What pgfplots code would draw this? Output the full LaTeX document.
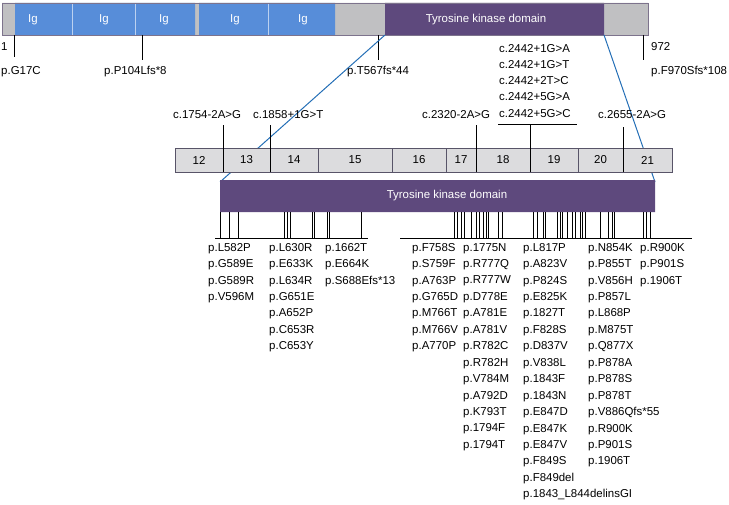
\documentclass[border=0pt]{standalone}
\usepackage{pgfplots}
\pgfplotsset{compat=1.18}
\usepackage{fontspec}
\setmainfont{Liberation Sans}
\definecolor{igblue}{RGB}{87,141,217}
\definecolor{tkpurple}{RGB}{94,73,125}
\definecolor{dgrey}{RGB}{192,192,194}
\definecolor{exgrey}{RGB}{220,220,222}
\definecolor{exedge}{RGB}{88,84,104}
\definecolor{baredge}{RGB}{125,115,140}
\definecolor{linkblue}{RGB}{35,110,182}
\begin{document}
\begin{tikzpicture}[font=\fontsize{11.5}{13.8}\selectfont]
\begin{axis}[scale only axis, width=729bp, height=505bp,
  xmin=0, xmax=729, ymin=0, ymax=505, y dir=reverse, hide axis, clip=false,
  every axis plot/.append style={no marks}]
% frame for bounding box
\addplot[draw=none, forget plot] coordinates {(0,0) (729,505)};
% ---------- top protein bar ----------
\addplot[fill=dgrey, draw=none] coordinates {(2,3) (648,3) (648,35) (2,35) (2,3)};
\addplot[fill=igblue, draw=none] coordinates {(15,3) (195,3) (195,35) (15,35) (15,3)};
\addplot[fill=igblue, draw=none] coordinates {(199,3) (335,3) (335,35) (199,35) (199,3)};
\addplot[fill=tkpurple, draw=none] coordinates {(385,3) (604,3) (604,35) (385,35) (385,3)};
\addplot[white!60!igblue, line width=0.6pt, unbounded coords=jump] coordinates {(72,3) (72,35) (72,nan) (135,3) (135,35) (135,nan) (268,3) (268,35)};
\addplot[baredge, line width=0.8pt] coordinates {(2,3) (648,3) (648,35) (2,35) (2,3)};
\node[white] at (axis cs:33,20) {Ig};
\node[white] at (axis cs:104,20) {Ig};
\node[white] at (axis cs:164,20) {Ig};
\node[white] at (axis cs:235,20) {Ig};
\node[white] at (axis cs:303,20) {Ig};
\node[white] at (axis cs:486,20) {Tyrosine kinase domain};
% ticks under top bar
\addplot[black, line width=0.9pt, unbounded coords=jump] coordinates {(14,35) (14,57) (14,nan) (142,35) (142,60) (142,nan) (378,35) (378,60) (378,nan) (643,35) (643,60)};
\node[anchor=west, inner sep=0pt] at (axis cs:1,47) {1};
\node[anchor=west, inner sep=0pt] at (axis cs:1,72) {p.G17C};
\node[anchor=west, inner sep=0pt] at (axis cs:104,72) {p.P104Lfs*8};
\node[anchor=west, inner sep=0pt] at (axis cs:347,72) {p.T567fs*44};
\node[anchor=west, inner sep=0pt] at (axis cs:651,47) {972};
\node[anchor=west, inner sep=0pt] at (axis cs:651,72) {p.F970Sfs*108};
% ---------- zoom lines ----------
\addplot[linkblue, line width=1pt] coordinates {(385,35) (220,182)};
\addplot[linkblue, line width=1pt] coordinates {(604,35) (655,182)};
% ---------- exon bar ----------
\addplot[fill=exgrey, draw=none] coordinates {(175,148) (672,148) (672,172) (175,172) (175,148)};
\addplot[exedge, line width=0.8pt] coordinates {(175,148) (672,148) (672,172) (175,172) (175,148)};
\addplot[exedge, line width=0.8pt, unbounded coords=jump] coordinates {(318,148) (318,172) (318,nan) (392,148) (392,172) (392,nan) (446,148) (446,172) (446,nan) (578,148) (578,172)};
\addplot[black, line width=0.8pt, unbounded coords=jump] coordinates {(223,125) (223,172) (223,nan) (270,125) (270,172) (270,nan) (476,125) (476,172) (476,nan) (530,124) (530,172) (530,nan) (623,127) (623,172) (623,nan) (498,124) (577,124)};
\node at (axis cs:199,160) {12};
\node at (axis cs:246.5,160) {13};
\node at (axis cs:294,160) {14};
\node at (axis cs:355,160) {15};
\node at (axis cs:419,160) {16};
\node at (axis cs:461,160) {17};
\node at (axis cs:503,160) {18};
\node at (axis cs:554,160) {19};
\node at (axis cs:600.5,160) {20};
\node at (axis cs:647.5,160) {21};
% splice labels
\node[anchor=west, inner sep=0pt] at (axis cs:173,115) {c.1754-2A>G};
\node[anchor=west, inner sep=0pt] at (axis cs:253,115) {c.1858+1G>T};
\node[anchor=west, inner sep=0pt] at (axis cs:422,115) {c.2320-2A>G};
\node[anchor=west, inner sep=0pt] at (axis cs:598,115) {c.2655-2A>G};
\node[anchor=north west, inner sep=0pt, align=left, font=\fontsize{11.5}{16.3}\selectfont] at (axis cs:499,44) {c.2442+1G>A\\c.2442+1G>T\\c.2442+2T>C\\c.2442+5G>A\\c.2442+5G>C};
% ---------- lower kinase domain ----------
\addplot[fill=tkpurple, draw=none] coordinates {(220,180) (655,180) (655,212) (220,212) (220,180)};
\node[white] at (axis cs:447,196) {Tyrosine kinase domain};
% mutation ticks
\addplot[black, line width=0.7pt, quiver={u=0, v=26}] coordinates {
 (220,212) (229,212) (238,212) (284,212) (287,212) (290,212) (312,212) (314,212) (327,212) (329,212) (361,212)
 (454,212) (457,212) (461,212) (464,212) (471,212) (476,212) (479,212) (483,212) (486,212) (488,212) (498,212) (502,212)
 (533,212) (537,212) (543,212) (545,212) (557,212) (560,212) (562,212) (567,212) (572,212) (575,212) (580,212) (582,212) (585,212)
 (600,212) (608,212) (612,212) (614,212) (643,212) (646,212) (650,212)};
\addplot[black, line width=0.9pt, unbounded coords=jump] coordinates {(215,238) (368,238) (368,nan) (400,238) (692,238)};
% mutation labels
\tikzset{mut/.style={anchor=north west, inner sep=0pt, align=left, font=\fontsize{11.5}{16.5}\selectfont}}
\node[mut] at (axis cs:208,243) {p.L582P\\p.G589E\\p.G589R\\p.V596M};
\node[mut] at (axis cs:269,243) {p.L630R\\p.E633K\\p.L634R\\p.G651E\\p.A652P\\p.C653R\\p.C653Y};
\node[mut] at (axis cs:325,243) {p.1662T\\p.E664K\\p.S688Efs*13};
\node[mut] at (axis cs:412,243) {p.F758S\\p.S759F\\p.A763P\\p.G765D\\p.M766T\\p.M766V\\p.A770P};
\node[mut] at (axis cs:463,243) {p.1775N\\p.R777Q\\p.R777W\\p.D778E\\p.A781E\\p.A781V\\p.R782C\\p.R782H\\p.V784M\\p.A792D\\p.K793T\\p.1794F\\p.1794T};
\node[mut] at (axis cs:523,243) {p.L817P\\p.A823V\\p.P824S\\p.E825K\\p.1827T\\p.F828S\\p.D837V\\p.V838L\\p.1843F\\p.1843N\\p.E847D\\p.E847K\\p.E847V\\p.F849S\\p.F849del\\p.1843\_L844delinsGI};
\node[mut] at (axis cs:588,243) {p.N854K\\p.P855T\\p.V856H\\p.P857L\\p.L868P\\p.M875T\\p.Q877X\\p.P878A\\p.P878S\\p.P878T\\p.V886Qfs*55\\p.R900K\\p.P901S\\p.1906T};
\node[mut] at (axis cs:640,243) {p.R900K\\p.P901S\\p.1906T};
\end{axis}
\end{tikzpicture}
\end{document}
